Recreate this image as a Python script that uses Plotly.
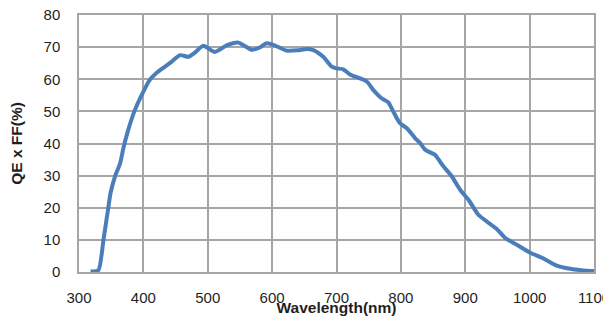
import plotly.graph_objects as go

wavelength = [318, 330, 338, 345.5, 349, 356, 364, 369, 376.6, 386, 395, 410, 423, 441, 457,
              470, 480, 493, 511, 530, 547.5, 568, 580, 591.6, 604.5, 622.6, 640, 653.7, 664,
              679.5, 692.5, 700, 710.6, 721, 747, 757, 770, 780.5, 788, 798.6, 809, 822, 830,
              837.5, 848, 853, 866, 879, 892, 905, 920, 933, 949, 962, 980, 1001, 1021.5,
              1042, 1063, 1083.5, 1101]
qe_ff = [0.2, 0.5, 10.0, 20.0, 24.6, 29.8, 33.9, 38.6, 44.3, 50.0, 54.1, 59.8, 62.4, 65.0, 67.5,
         67.0, 68.3, 70.4, 68.5, 70.6, 71.4, 69.2, 69.8, 71.2, 70.5, 68.9, 69.0, 69.4, 69.1,
         67.0, 63.9, 63.4, 63.1, 61.5, 59.3, 56.7, 54.1, 52.8, 50.0, 46.3, 44.8, 41.7, 40.1,
         38.1, 37.0, 36.5, 32.9, 29.8, 25.6, 22.5, 17.9, 15.8, 13.4, 10.6, 8.5, 6.0, 4.2,
         2.0, 1.0, 0.5, 0.3]

x_ticks = [300, 400, 500, 600, 700, 800, 900, 1000, 1100]
y_ticks = [0, 10, 20, 30, 40, 50, 60, 70, 80]

grid = "#a6a6a6"
font = "Liberation Sans"
txt = "#1f1f1f"

fig = go.Figure()
fig.add_trace(go.Scatter(
    x=wavelength, y=qe_ff, mode="lines",
    line=dict(color="#4a7ebb", width=4, shape="spline", smoothing=0.6),
    showlegend=False, hoverinfo="skip"))

# the page body adds an 8px offset; height kept so the page does not overflow vertically
fig.update_layout(
    width=611, height=308,
    margin=dict(l=71, r=25, t=7, b=44),
    paper_bgcolor="white", plot_bgcolor="white",
    font=dict(family=font, color=txt),
)
fig.update_xaxes(
    range=[300, 1100], tickvals=x_ticks, ticktext=[str(v) for v in x_ticks],
    showgrid=True, gridcolor=grid, gridwidth=1.5,
    showline=True, linecolor=grid, linewidth=1.5, mirror=True,
    ticks="outside", ticklen=11, tickcolor="rgba(0,0,0,0)",
    tickfont=dict(size=15, family=font, color=txt),
    ticklabeloverflow="allow",
    title=dict(text="<b>Wavelength(nm)</b>", font=dict(size=15.5, family=font, color=txt),
               standoff=5),
    zeroline=False, automargin=False,
)
fig.update_yaxes(
    range=[0, 80], tickvals=y_ticks, ticktext=[str(v) for v in y_ticks],
    showgrid=True, gridcolor=grid, gridwidth=1.5,
    showline=True, linecolor=grid, linewidth=1.5, mirror=True,
    ticks="outside", ticklen=14, tickcolor="rgba(0,0,0,0)",
    tickfont=dict(size=15, family=font, color=txt),
    ticklabeloverflow="allow",
    title=dict(text="<b>QE x FF(%)</b>", font=dict(size=15.5, family=font, color=txt),
               standoff=18),
    zeroline=False, automargin=False,
)

fig.write_html("out.html")
